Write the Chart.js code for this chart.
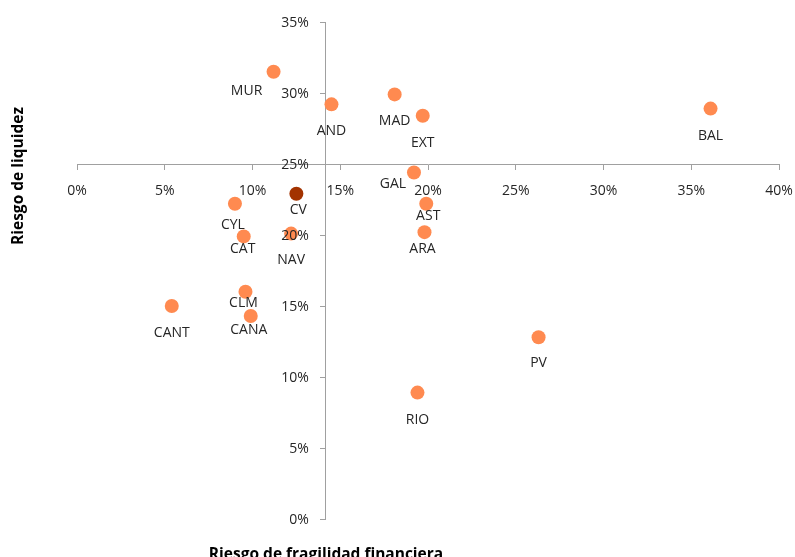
<!DOCTYPE html>
<html>
<head>
<meta charset="utf-8">
<script src="https://cdn.jsdelivr.net/npm/chart.js@4/dist/chart.umd.min.js"></script>
<style>
  html, body { margin: 0; padding: 0; background: #fff; }
  #wrap { width: 795px; height: 557px; position: relative; }
</style>
</head>
<body>
<div id="wrap"><canvas id="c" width="795" height="557"></canvas></div>
<script>
// ---- Data ----
const regions = ['MUR','AND','MAD','EXT','BAL','GAL','AST','ARA','CV','CYL','CAT','NAV','CLM','CANA','CANT','PV','RIO'];
const fragilidad = [11.2, 14.5, 18.1, 19.7, 36.1, 19.2, 19.9, 19.8, 12.5, 9.0, 9.5, 12.2, 9.6, 9.9, 5.4, 26.3, 19.4];
const liquidez   = [31.5, 29.2, 29.9, 28.4, 28.9, 24.4, 22.2, 20.2, 22.9, 22.2, 19.9, 20.1, 16.0, 14.3, 15.0, 12.8, 8.9];
const xTicks = [0, 5, 10, 15, 20, 25, 30, 35, 40];
const yTicks = [0, 5, 10, 15, 20, 25, 30, 35];
const highlighted = 'CV';

// ---- Styling (label offsets in px relative to point) ----
const labelOffsets = {
  MUR:[-27,19], AND:[0,27], MAD:[0,27], EXT:[0,27], BAL:[0,27], GAL:[-21,11],
  AST:[2,12], ARA:[-2,17], CV:[2,16], CYL:[-2,21], CAT:[-1,13], NAV:[0,26],
  CLM:[-2,11], CANA:[-2,14], CANT:[0,27], PV:[0,26], RIO:[0,27]
};
const FONT = '"Open Sans", "Noto Sans", sans-serif';
const AXIS_COLOR = '#a0a0a0';
const TEXT_COLOR = '#262626';

const points = regions.map((r, i) => ({ x: fragilidad[i], y: liquidez[i], label: r }));
const colors = regions.map(r => r === highlighted ? '#a33300' : '#ff8a50');
const pct = v => v + '%';

const labelPlugin = {
  id: 'pointLabels',
  afterDatasetsDraw(chart) {
    const ctx = chart.ctx;
    const meta = chart.getDatasetMeta(0);
    ctx.save();
    ctx.font = '14px ' + FONT;
    ctx.fillStyle = TEXT_COLOR;
    ctx.textAlign = 'center';
    ctx.textBaseline = 'middle';
    meta.data.forEach((el, i) => {
      const off = labelOffsets[regions[i]] || [0, 20];
      ctx.fillText(regions[i], el.x + off[0], el.y + off[1]);
    });
    ctx.restore();
  }
};

// y tick labels: drawn from the y scale, offset left of the crossing axis
const yLabelPlugin = {
  id: 'yTickLabels',
  afterDraw(chart) {
    const ctx = chart.ctx;
    const ys = chart.scales.y;
    const axisX = chart.scales.x.getPixelForValue(14.18);
    ctx.save();
    ctx.font = '14px ' + FONT;
    ctx.fillStyle = TEXT_COLOR;
    ctx.textAlign = 'right';
    ctx.textBaseline = 'middle';
    ys.ticks.forEach(t => {
      ctx.fillText(pct(t.value), axisX - 17, ys.getPixelForValue(t.value) + 1);
    });
    ctx.restore();
  }
};

const titlePlugin = {
  id: 'axisTitles',
  afterDraw(chart) {
    const ctx = chart.ctx;
    ctx.save();
    ctx.font = 'bold 15.5px ' + FONT;
    ctx.fillStyle = '#000';
    ctx.textAlign = 'center';
    ctx.textBaseline = 'alphabetic';
    ctx.fillText('Riesgo de fragilidad financiera', 326, 559);
    ctx.translate(19, 176);
    ctx.rotate(-Math.PI / 2);
    ctx.textBaseline = 'middle';
    ctx.fillText('Riesgo de liquidez', 0, 0);
    ctx.restore();
  }
};

const zeroPad = s => { s.paddingLeft = 0; s.paddingRight = 0; s.paddingTop = 0; s.paddingBottom = 0; };

new Chart(document.getElementById('c'), {
  type: 'scatter',
  data: {
    datasets: [{
      data: points,
      backgroundColor: colors,
      borderColor: colors,
      borderWidth: 0,
      pointRadius: 7,
      pointHoverRadius: 7
    }]
  },
  options: {
    responsive: false,
    animation: false,
    events: [],
    layout: { padding: { left: 77, right: 16, top: 22, bottom: 38 } },
    plugins: { legend: { display: false }, tooltip: { enabled: false } },
    scales: {
      x: {
        type: 'linear',
        min: 0, max: 40,
        position: { y: 25 },
        afterBuildTicks: s => { s.ticks = xTicks.map(v => ({ value: v })); },
        afterFit: zeroPad,
        ticks: {
          callback: pct,
          font: { family: FONT, size: 14 },
          color: TEXT_COLOR,
          padding: 14,
          maxRotation: 0,
          autoSkip: false
        },
        grid: { display: true, drawOnChartArea: false, drawTicks: true, tickLength: 5, color: AXIS_COLOR },
        border: { display: true, color: AXIS_COLOR, width: 1 }
      },
      y: {
        type: 'linear',
        min: 0, max: 35,
        position: { x: 14.18 },
        afterBuildTicks: s => { s.ticks = yTicks.map(v => ({ value: v })); },
        afterFit: zeroPad,
        ticks: { display: false, autoSkip: false },
        grid: { display: true, drawOnChartArea: false, drawTicks: true, tickLength: 5, color: AXIS_COLOR },
        border: { display: true, color: AXIS_COLOR, width: 1 }
      }
    }
  },
  plugins: [labelPlugin, yLabelPlugin, titlePlugin]
});
</script>
</body>
</html>
